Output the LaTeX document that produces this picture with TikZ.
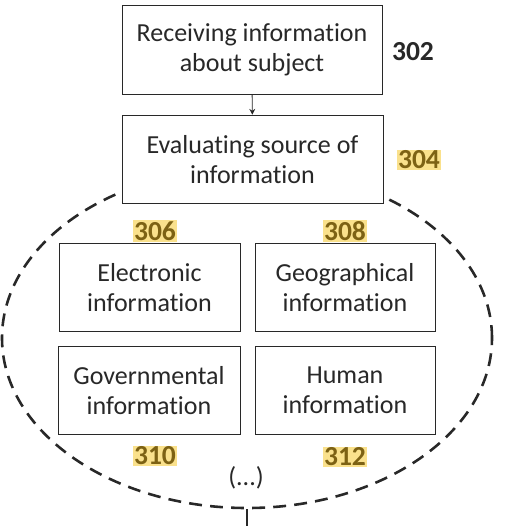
\documentclass[tikz,border=0pt]{standalone}
\usepackage{fontspec}
\setmainfont{Carlito}[Ligatures=CommonOff]
\usepackage{tikz}
\usetikzlibrary{
  arrows.meta,
  positioning,
  shapes.geometric
}
\definecolor{inkgray}{RGB}{40,40,40}
\definecolor{marker}{RGB}{250,225,140}
\definecolor{olive}{RGB}{125,98,20}

\begin{document}
\begin{tikzpicture}[x=0.03cm, y=-0.03cm,
    every node/.style={font=\fontsize{22.2}{26}\selectfont, text=inkgray},
    stepbox/.style={draw=inkgray, line width=0.7pt, fill=white, align=center, minimum height=2.66cm, inner sep=2pt},
    refnum/.style={font=\fontsize{23.5}{25}\selectfont\bfseries, inner sep=1pt},
    marked/.style={refnum, fill=marker, text=olive}]
            \useasboundingbox (0,0) rectangle (512,526);

            % Dashed group
            \node[ellipse, draw=inkgray, line width=2.2pt, dash pattern=on 11pt off 7pt, minimum width=14.7cm, minimum height=10.2cm, inner sep=0pt] (group) at (247,338) {};
            \coordinate (out) at (247,530);

            % Steps
            \node[stepbox, minimum width=7.8cm] (receive) at (252,50) {Receiving information\\about subject};
            \node[stepbox, minimum width=7.83cm] (evaluate) at (252.5,159.5) {Evaluating source of\\information};

            % Sources
            \node[stepbox, minimum width=5.43cm] (electronic) at (149.5,287.5) {Electronic\\information};
            \node[stepbox, minimum width=5.4cm] (geo) at (345,287.5) {Geographical\\information};
            \node[stepbox, minimum width=5.46cm] (gov) at (149,390.5) {Governmental\\information};
            \node[stepbox, minimum width=5.4cm] (human) at (345,390.5) {Human\\information};
            \node (more) at (246,478) {(...)};

            % Reference numbers
            \node[refnum] (n302) at (413,52) {302};
            \node[marked] (n304) at (419,160) {304};
            \node[marked] (n306) at (155,231) {306};
            \node[marked] (n308) at (345,231) {308};
            \node[marked] (n310) at (155,456) {310};
            \node[marked] (n312) at (345,457) {312};

            % Connectors
            \draw[inkgray, line width=0.8pt, -{Stealth[length=5pt, width=5pt]}] (receive) -- (evaluate);
            \draw[inkgray, line width=1.2pt] (group.south) -- (out);
        \end{tikzpicture}
\end{document}
